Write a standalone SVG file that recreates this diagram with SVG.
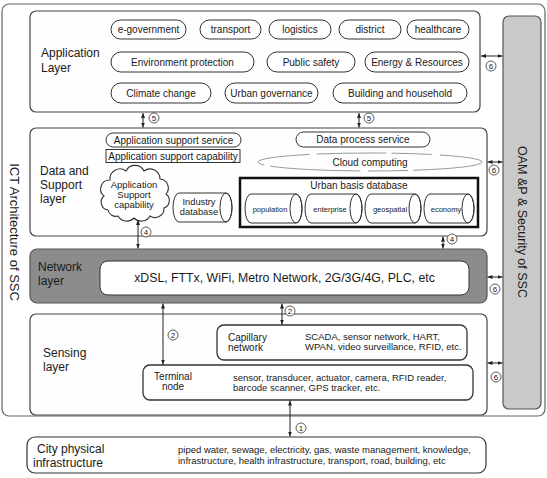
<svg xmlns="http://www.w3.org/2000/svg" width="547" height="478" viewBox="0 0 547 478">
<defs>
<style>
text{font-family:"Liberation Sans",Arial,sans-serif;fill:#1a1a1a}
.lbl{font-size:12px}
.pt{font-size:10px;text-anchor:middle}
.sm{font-size:9.5px}
.cy{font-size:7.5px;text-anchor:middle}
.num{font-size:8px;text-anchor:middle}
.layer{fill:#fefefe;stroke:#444;stroke-width:1.2}
.pill{fill:#fff;stroke:#333;stroke-width:1}
.box{fill:#fff;stroke:#333;stroke-width:1.3}
.cyl{fill:#fff;stroke:#333;stroke-width:1}
.con{stroke:#222;stroke-width:1;fill:none;marker-start:url(#ah);marker-end:url(#ah)}
.circ{fill:#fff;stroke:#333;stroke-width:0.8}
</style>
<marker id="ah" viewBox="0 0 10 10" refX="10" refY="5" markerWidth="5" markerHeight="5" orient="auto-start-reverse"><path d="M0,1 L10,5 L0,9 z" fill="#222"/></marker>
</defs>
<rect width="547" height="478" fill="#fff"/>

<g id="outer-frame">
<rect x="2" y="4" width="543" height="412" rx="7" fill="#fff" stroke="#666" stroke-width="1.2"/>
<text class="lbl" style="font-size:13px" text-anchor="middle" transform="translate(10,232) rotate(90)">ICT Architecture of SSC</text>
</g>

<g id="oam">
<rect x="503" y="16" width="38" height="393" rx="6" fill="#c9c9c9" stroke="#555" stroke-width="1.2"/>
<text style="font-size:12.5px" text-anchor="middle" transform="translate(518,222) rotate(90)">OAM &amp;P &amp; Security of SSC</text>
</g>

<g id="application-layer">
<rect class="layer" x="30" y="11" width="450" height="101" rx="6"/>
<text class="lbl" x="41" y="57">Application</text>
<text class="lbl" x="41" y="72">Layer</text>
<rect class="pill" x="111" y="20" width="75" height="19" rx="9.5"/><text class="pt" x="148.5" y="33">e-government</text>
<rect class="pill" x="200" y="20" width="61" height="19" rx="9.5"/><text class="pt" x="230.5" y="33">transport</text>
<rect class="pill" x="269" y="20" width="62" height="19" rx="9.5"/><text class="pt" x="300" y="33">logistics</text>
<rect class="pill" x="339" y="20" width="62" height="19" rx="9.5"/><text class="pt" x="370" y="33">district</text>
<rect class="pill" x="407" y="20" width="62" height="19" rx="9.5"/><text class="pt" x="438" y="33">healthcare</text>
<rect class="pill" x="111" y="52" width="143" height="20" rx="10"/><text class="pt" x="182.5" y="65.5">Environment protection</text>
<rect class="pill" x="267" y="52" width="88" height="20" rx="10"/><text class="pt" x="311" y="65.5">Public safety</text>
<rect class="pill" x="365" y="52" width="104" height="20" rx="10"/><text class="pt" x="417" y="65.5">Energy &amp; Resources</text>
<rect class="pill" x="111" y="83" width="100" height="20" rx="10"/><text class="pt" x="161" y="96.5">Climate change</text>
<rect class="pill" x="225" y="83" width="93" height="20" rx="10"/><text class="pt" x="271.5" y="96.5">Urban governance</text>
<rect class="pill" x="333" y="83" width="134" height="20" rx="10"/><text class="pt" x="400" y="96.5">Building and household</text>
</g>

<g id="data-support-layer">
<rect class="layer" x="30" y="128" width="457" height="108" rx="6"/>
<text class="lbl" x="40" y="175">Data and</text>
<text class="lbl" x="40" y="189">Support</text>
<text class="lbl" x="40" y="203">layer</text>
<rect class="pill" x="106" y="133" width="135" height="14" rx="7"/><text class="pt" x="173.5" y="143.5">Application support service</text>
<rect x="106" y="149.5" width="134" height="13" fill="#fff" stroke="#333" stroke-width="1"/><text class="pt" x="173" y="160">Application support capability</text>
<rect class="pill" x="296" y="132" width="134" height="15" rx="7.5"/><text class="pt" x="363" y="143">Data process service</text>
<g id="cloud-computing">
<ellipse cx="370" cy="162" rx="112" ry="9" fill="none" stroke="#9a9a9a" stroke-width="1" stroke-dasharray="70 5 40 8 90 6 60 7"/>
<text class="pt" x="370" y="166">Cloud computing</text>
</g>
<g id="app-support-cloud">
<path d="M108,210 a8,8 0 0 1 -4,-14 a9,9 0 0 1 6,-16 a10,10 0 0 1 16,-9 a10,10 0 0 1 18,0 a10,10 0 0 1 16,8 a9,9 0 0 1 6,15 a8,8 0 0 1 -2,14 a9,9 0 0 1 -14,8 a10,10 0 0 1 -16,2 a10,10 0 0 1 -16,-2 a8,8 0 0 1 -10,-6 z" fill="#fff" stroke="#333" stroke-width="1.1"/>
<text class="pt" style="font-size:9.5px" x="134" y="188">Application</text>
<text class="pt" style="font-size:9.5px" x="134" y="198">Support</text>
<text class="pt" style="font-size:9.5px" x="134" y="208">capability</text>
</g>
<g id="industry-db">
<path class="cyl" d="M179,193 L226,193 A6,14.5 0 0 1 226,222 L179,222 A6,14.5 0 0 1 179,193 Z"/>
<ellipse cx="226" cy="207.5" rx="6" ry="14.5" fill="none" stroke="#333" stroke-width="1"/>
<text class="pt" style="font-size:9.3px" x="199" y="205">Industry</text>
<text class="pt" style="font-size:9.3px" x="199" y="215">database</text>
</g>
<g id="urban-basis-db">
<rect x="240" y="178" width="238" height="49" fill="#fff" stroke="#111" stroke-width="2.5"/>
<text class="pt" x="359" y="189">Urban basis database</text>
<path class="cyl" d="M251,194 L296,194 A6,14.5 0 0 1 296,223 L251,223 A6,14.5 0 0 1 251,194 Z"/>
<ellipse cx="296" cy="208.5" rx="6" ry="14.5" fill="none" stroke="#333"/>
<text class="cy" x="270" y="211.5">population</text>
<path class="cyl" d="M311,194 L356,194 A6,14.5 0 0 1 356,223 L311,223 A6,14.5 0 0 1 311,194 Z"/>
<ellipse cx="356" cy="208.5" rx="6" ry="14.5" fill="none" stroke="#333"/>
<text class="cy" x="330" y="211.5">enterprise</text>
<path class="cyl" d="M371,194 L415,194 A6,14.5 0 0 1 415,223 L371,223 A6,14.5 0 0 1 371,194 Z"/>
<ellipse cx="415" cy="208.5" rx="6" ry="14.5" fill="none" stroke="#333"/>
<text class="cy" x="390" y="211.5">geospatial</text>
<path class="cyl" d="M430,194 L468,194 A6,14.5 0 0 1 468,223 L430,223 A6,14.5 0 0 1 430,194 Z"/>
<ellipse cx="468" cy="208.5" rx="6" ry="14.5" fill="none" stroke="#333"/>
<text class="cy" x="446" y="211.5">economy</text>
</g>
</g>

<g id="network-layer">
<rect x="30" y="249" width="457" height="54" rx="7" fill="#8c8c8c" stroke="#555" stroke-width="1.2"/>
<text class="lbl" x="38" y="271">Network</text>
<text class="lbl" x="38" y="285">layer</text>
<rect x="100" y="261" width="369" height="34" rx="8" fill="#fff" stroke="#333" stroke-width="1"/>
<text x="284.5" y="282" text-anchor="middle" style="font-size:12.3px">xDSL, FTTx, WiFi, Metro Network, 2G/3G/4G, PLC, etc</text>
</g>

<g id="sensing-layer">
<rect class="layer" x="30" y="314" width="457" height="101" rx="6"/>
<text class="lbl" x="43" y="357">Sensing</text>
<text class="lbl" x="43" y="371">layer</text>
<g id="capillary-network">
<rect class="box" x="217" y="325" width="250" height="35" rx="7"/>
<text style="font-size:10px" x="228" y="341">Capillary</text>
<text style="font-size:10px" x="228" y="351">network</text>
<text class="sm" x="305" y="340">SCADA, sensor network, HART,</text>
<text class="sm" x="305" y="350">WPAN, video surveillance, RFID, etc.</text>
</g>
<g id="terminal-node">
<rect class="box" x="143" y="365" width="330" height="35" rx="7"/>
<text class="pt" x="173" y="380">Terminal</text>
<text class="pt" x="173" y="390">node</text>
<text class="sm" x="233" y="381">sensor, transducer, actuator, camera, RFID reader,</text>
<text class="sm" x="233" y="391">barcode scanner, GPS tracker, etc.</text>
</g>
</g>

<g id="city-infrastructure">
<rect x="27" y="437" width="459" height="36" rx="8" fill="#fff" stroke="#333" stroke-width="1.2"/>
<text class="lbl" x="37" y="453">City physical</text>
<text class="lbl" x="33" y="467">infrastructure</text>
<text class="sm" x="178" y="453">piped water, sewage, electricity, gas, waste management, knowledge,</text>
<text class="sm" x="178" y="464">infrastructure, health infrastructure, transport, road, building, etc</text>
</g>

<g id="connectors">
<line class="con" x1="143" y1="113" x2="143" y2="127.5"/>
<line class="con" x1="359" y1="113" x2="359" y2="127.5"/>
<line class="con" x1="138" y1="220" x2="138" y2="248.5"/>
<line class="con" x1="443" y1="236.5" x2="443" y2="248.5"/>
<line class="con" x1="163" y1="303.5" x2="163" y2="364.5"/>
<line class="con" x1="282" y1="303.5" x2="282" y2="324.5"/>
<line class="con" x1="290" y1="400.5" x2="290" y2="436.5"/>
<line class="con" x1="481" y1="56" x2="502.5" y2="56"/>
<line class="con" x1="487.5" y1="162" x2="502.5" y2="162"/>
<line class="con" x1="487.5" y1="277" x2="502.5" y2="277"/>
<line class="con" x1="487.5" y1="363" x2="502.5" y2="363"/>
<g id="labels">
<circle class="circ" cx="154" cy="118" r="5"/><text class="num" x="154" y="121">5</text>
<circle class="circ" cx="369" cy="118" r="5"/><text class="num" x="369" y="121">5</text>
<circle class="circ" cx="146" cy="232" r="5"/><text class="num" x="146" y="235">4</text>
<circle class="circ" cx="452" cy="239" r="5"/><text class="num" x="452" y="242">4</text>
<circle class="circ" cx="173" cy="335" r="5"/><text class="num" x="173" y="338">2</text>
<circle class="circ" cx="290" cy="311" r="5"/><text class="num" x="290" y="314">2</text>
<circle class="circ" cx="301" cy="428" r="5"/><text class="num" x="301" y="431">1</text>
<circle class="circ" cx="491" cy="66" r="5"/><text class="num" x="491" y="69">6</text>
<circle class="circ" cx="494" cy="170" r="5"/><text class="num" x="494" y="173">6</text>
<circle class="circ" cx="495" cy="289" r="5"/><text class="num" x="495" y="292">6</text>
<circle class="circ" cx="496" cy="377" r="5"/><text class="num" x="496" y="380">6</text>
</g>
</g>
</svg>
